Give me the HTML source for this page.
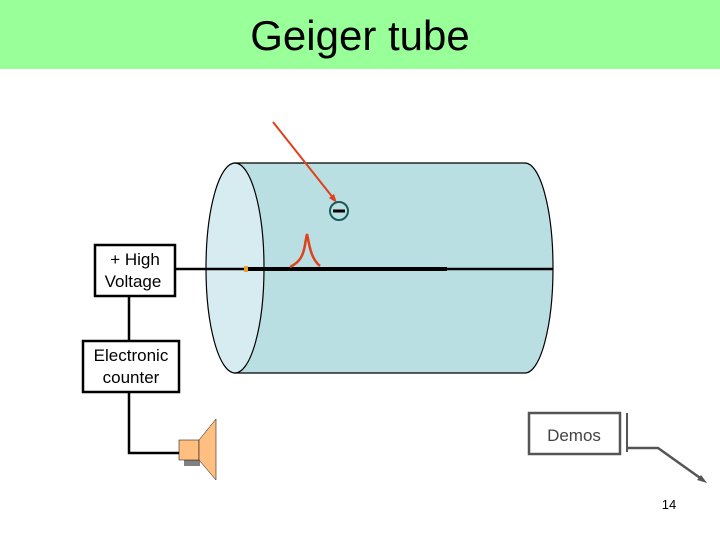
<!DOCTYPE html>
<html><head><style>
body{margin:0;width:720px;height:540px;background:#fff;overflow:hidden;font-family:"Liberation Sans",sans-serif}
</style></head><body>
<svg width="720" height="540" xmlns="http://www.w3.org/2000/svg" style="position:absolute;left:0;top:0">
<rect x="0" y="0" width="720" height="69" fill="#99ff99"/>
<text x="360" y="50" font-size="42" text-anchor="middle" font-family="Liberation Sans">Geiger tube</text>
<path d="M235,163 L525,163 A28,105 0 0 1 525,373 L235,373 Z" fill="#badfe3" stroke="#000" stroke-width="1.2"/>
<ellipse cx="235" cy="268" rx="29" ry="105" fill="#d6ecf0" stroke="#000" stroke-width="1.2"/>
<line x1="176" y1="269" x2="553" y2="269" stroke="#000" stroke-width="2.5"/>
<line x1="245" y1="269" x2="447" y2="269" stroke="#000" stroke-width="4"/>
<rect x="244" y="266" width="4" height="6" fill="#e8a030"/>
<path d="M290,267 C300,262 303,256 305,245 C306,238 307,234 307,234 C309,242 310,258 320,266" fill="none" stroke="#e0401a" stroke-width="2.5"/>
<line x1="273" y1="122" x2="334" y2="199" stroke="#e0401a" stroke-width="2"/>
<polygon points="337,203 329,198 334,194" fill="#e0401a"/>
<circle cx="339" cy="211" r="9" fill="#badfe3" stroke="#1a5a5a" stroke-width="2"/>
<line x1="333" y1="211" x2="345" y2="211" stroke="#000" stroke-width="3"/>
<line x1="129" y1="296" x2="129" y2="340" stroke="#000" stroke-width="2.5"/>
<polyline points="129,393 129,453 180,453" fill="none" stroke="#000" stroke-width="2.5"/>
<rect x="95" y="245" width="80" height="51" fill="#fff" stroke="#000" stroke-width="2.5"/>
<text x="135" y="265" font-size="17" text-anchor="middle">+ High</text>
<text x="133" y="287" font-size="17" text-anchor="middle">Voltage</text>
<rect x="83" y="341" width="96" height="51" fill="#fff" stroke="#000" stroke-width="2.5"/>
<text x="131" y="361" font-size="17" text-anchor="middle">Electronic</text>
<text x="131" y="383" font-size="17" text-anchor="middle">counter</text>
<rect x="184" y="460" width="16" height="6" fill="#808080"/>
<rect x="179" y="440" width="20" height="20" fill="#ffbf80" stroke="#000" stroke-width="0.5"/>
<polygon points="199,440 216,419 216,480 199,460" fill="#ffbf80" stroke="#000" stroke-width="0.5"/>
<rect x="529" y="413" width="91" height="41" fill="#fff" stroke="#555" stroke-width="2.5"/>
<text x="574" y="441" font-size="17" text-anchor="middle" fill="#444">Demos</text>
<line x1="627" y1="413" x2="627" y2="452" stroke="#555" stroke-width="2"/>
<polyline points="628,448 658,448 703,480" fill="none" stroke="#555" stroke-width="2.5"/>
<polygon points="707,483 697,480 701,475" fill="#555"/>
<text x="669" y="509" font-size="13" text-anchor="middle">14</text>
</svg>
</body></html>
